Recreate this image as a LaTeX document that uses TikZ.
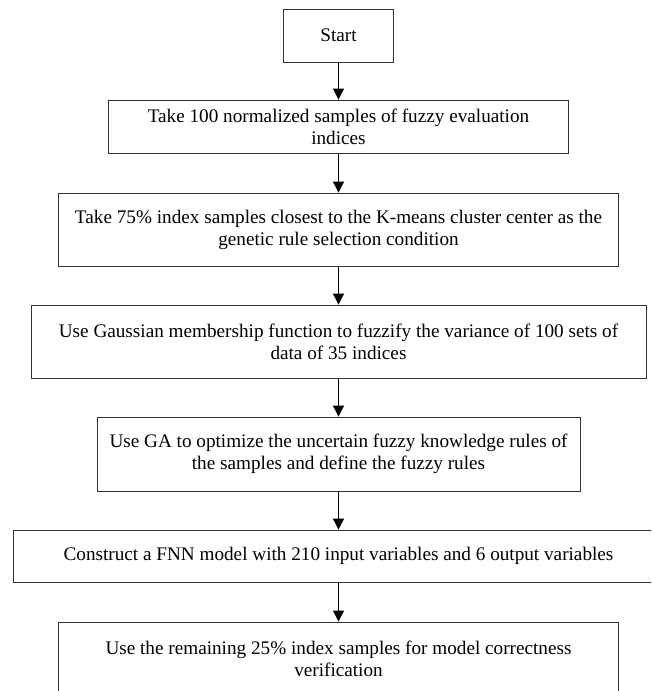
\documentclass[tikz,border=0pt]{standalone}
\usepackage{fontspec}
\setmainfont{Liberation Serif}
\usetikzlibrary{arrows.meta}
\begin{document}
\begin{tikzpicture}[x=1pt,y=-1pt,
  box/.style={draw=black!80, line width=0.9pt, align=center, inner sep=0pt,
    font=\fontsize{19.2}{22}\selectfont},
  flow/.style={draw=black, line width=1pt, -{Triangle[length=11pt,width=11pt]}}]
\useasboundingbox (0,0) rectangle (651,691);
\clip (0,0) rectangle (651,691);
\node[box, minimum width=110pt, minimum height=53pt] (s) at (338.5,35.5) {Start};
\node[box, minimum width=460pt, minimum height=53pt] (b1) at (338.5,126.5)
  {Take 100 normalized samples of fuzzy evaluation\\indices};
\node[box, minimum width=560pt, minimum height=73pt] (b2) at (338.5,229.5)
  {Take 75\% index samples closest to the K-means cluster center as the\\genetic rule selection condition};
\node[box, minimum width=615pt, minimum height=73pt] (b3) at (338.5,341.5)
  {Use Gaussian membership function to fuzzify the variance of 100 sets of\\data of 35 indices};
\node[box, minimum width=483pt, minimum height=74pt] (b4) at (338.5,454)
  {Use GA to optimize the uncertain fuzzy knowledge rules of\\the samples and define the fuzzy rules};
\node[box, minimum width=650pt, minimum height=52pt] (b5) at (338.5,556)
  {Construct a FNN model with 210 input variables and 6 output variables};
\node[box, minimum width=560pt, minimum height=73pt] (b6) at (338.5,658.5)
  {Use the remaining 25\% index samples for model correctness\\verification};
\draw[flow] (s) -- (b1);
\draw[flow] (b1) -- (b2);
\draw[flow] (b2) -- (b3);
\draw[flow] (b3) -- (b4);
\draw[flow] (b4) -- (b5);
\draw[flow] (b5) -- (b6);
\end{tikzpicture}
\end{document}
